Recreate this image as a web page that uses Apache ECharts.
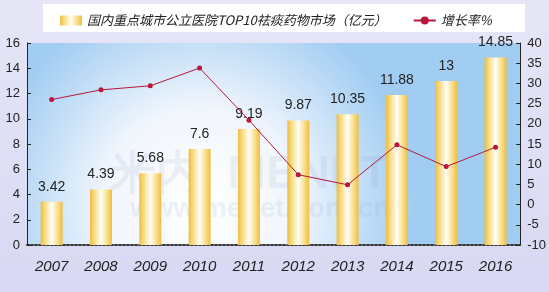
<!DOCTYPE html>
<html><head><meta charset="utf-8">
<script src="https://cdn.jsdelivr.net/npm/echarts@6/dist/echarts.min.js"></script>
<style>html,body{margin:0;padding:0;}#c{width:549px;height:292px;}</style>
</head><body><div id="c"></div>
<script>
var years = ['2007','2008','2009','2010','2011','2012','2013','2014','2015','2016'];
var market = [3.42, 4.39, 5.68, 7.6, 9.19, 9.87, 10.35, 11.88, 13, 14.85];
var growth = [26.0, 28.4, 29.4, 33.8, 20.9, 7.4, 4.9, 14.8, 9.4, 14.2];
var leftTicks = [0, 16, 2];
var rightTicks = [-10, 40, 5];
var barName = '国内重点城市公立医院TOP10祛痰药物市场（亿元）';
var lineName = '增长率%';

var chart = echarts.init(document.getElementById('c'));
var barGrad = new echarts.graphic.LinearGradient(0,0,1,0,[
  {offset:0,color:'#ebbd45'},{offset:0.18,color:'#f8d978'},{offset:0.5,color:'#fffef8'},
  {offset:0.82,color:'#f8d978'},{offset:1,color:'#ebbd45'}]);
chart.setOption({
  animation:false,
  backgroundColor: new echarts.graphic.LinearGradient(0,0,0,1,[{offset:0,color:'#e6e6f7'},{offset:1,color:'#d8d8f3'}]),
  graphic:[{
    type:'rect', left:43, top:4, shape:{width:482,height:28}, style:{fill:'#ffffff'}, z:0
  },{
    type:'text', left:110, top:152, style:{text:'米内  MENET', fill:'rgba(120,150,190,0.12)', font:'bold 46px sans-serif'}, z:1
  },{
    type:'text', left:130, top:195, style:{text:'www.menet.com.cn', fill:'rgba(120,150,190,0.12)', font:'bold 28px sans-serif'}, z:1
  }],
  legend:{
    top:9, left:55, itemGap:26, itemWidth:22, itemHeight:10,
    textStyle:{fontFamily:'Noto Sans CJK SC', fontSize:13, fontStyle:'italic', color:'#222'},
    data:[{name:barName, icon:'rect'},{name:lineName}]
  },
  grid:{left:27, right:27, top:43, bottom:47, show:true, borderWidth:0,
    backgroundColor:new echarts.graphic.RadialGradient(0.35,0.8,1.05,[{offset:0,color:'#ffffff'},{offset:0.45,color:'#f1f6fd'},{offset:1,color:'#a2cdf2'}])},
  xAxis:{type:'category', data:years,
    axisLine:{lineStyle:{color:'#333', width:2, type:'dotted'}},
    axisTick:{show:false},
    axisLabel:{fontFamily:'Liberation Sans', fontStyle:'italic', fontSize:15, color:'#222', margin:14}},
  yAxis:[{type:'value', min:leftTicks[0], max:leftTicks[1], interval:leftTicks[2],
    axisLine:{show:true, lineStyle:{color:'#222'}},
    axisTick:{show:true, inside:true, length:4, lineStyle:{color:'#222'}},
    splitLine:{show:false},
    axisLabel:{fontFamily:'Liberation Sans', fontSize:13, color:'#222', margin:7}},
   {type:'value', min:rightTicks[0], max:rightTicks[1], interval:rightTicks[2],
    axisLine:{show:true, lineStyle:{color:'#222'}},
    axisTick:{show:true, inside:true, length:4, lineStyle:{color:'#222'}},
    splitLine:{show:false},
    axisLabel:{fontFamily:'Liberation Sans', fontSize:13, color:'#222', margin:7}}],
  series:[{
    name:barName, type:'bar', data:market, barWidth:22, z:2,
    itemStyle:{color:barGrad},
    label:{show:true, position:'top', distance:8, fontFamily:'Liberation Sans', fontSize:14, color:'#222'}
  },{
    name:lineName, type:'line', yAxisIndex:1, data:growth, z:3,
    symbol:'circle', symbolSize:5,
    lineStyle:{color:'#b8163a', width:1},
    itemStyle:{color:'#b8163a'}
  }]
});
</script></body></html>
